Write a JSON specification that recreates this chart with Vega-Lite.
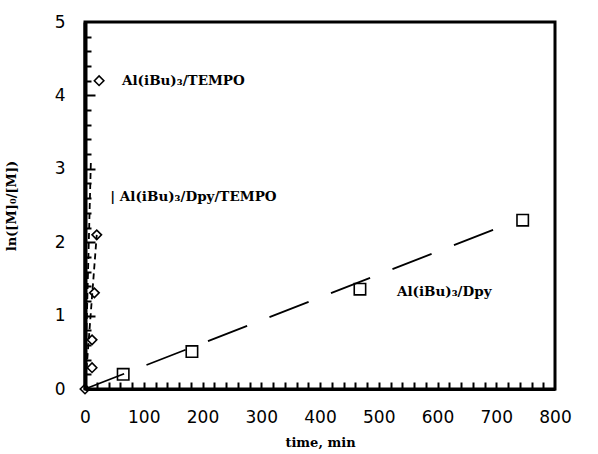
{
  "$schema": "https://vega.github.io/schema/vega-lite/v6.json",
  "autosize": {"type": "none"},
  "width": 470,
  "height": 367,
  "padding": {"left": 85, "top": 22, "right": 43, "bottom": 65},
  "background": "white",
  "config": {"view": {"stroke": "black", "strokeWidth": 3}},
  "datasets": {
    "pts": [
      {"time": 0, "lnM": 0, "series": "Al(iBu)3/TEMPO"},
      {"time": 12, "lnM": 0.29, "series": "Al(iBu)3/TEMPO"},
      {"time": 12, "lnM": 0.67, "series": "Al(iBu)3/TEMPO"},
      {"time": 16, "lnM": 1.31, "series": "Al(iBu)3/TEMPO"},
      {"time": 20, "lnM": 2.1, "series": "Al(iBu)3/TEMPO"},
      {"time": 24, "lnM": 4.2, "series": "Al(iBu)3/TEMPO"},
      {"time": 65, "lnM": 0.2, "series": "Al(iBu)3/Dpy"},
      {"time": 182, "lnM": 0.51, "series": "Al(iBu)3/Dpy"},
      {"time": 468, "lnM": 1.36, "series": "Al(iBu)3/Dpy"},
      {"time": 745, "lnM": 2.3, "series": "Al(iBu)3/Dpy"}
    ],
    "lines": [
      {"time": 0, "lnM": 0, "series": "Dpy fit"},
      {"time": 705, "lnM": 2.2, "series": "Dpy fit"},
      {"time": 0, "lnM": 0, "series": "TEMPO fit"},
      {"time": 20, "lnM": 2.1, "series": "TEMPO fit"},
      {"time": 0, "lnM": 0, "series": "Dpy/TEMPO fit"},
      {"time": 10, "lnM": 3.1, "series": "Dpy/TEMPO fit"}
    ],
    "labels": [
      {"time": 63, "lnM": 4.2, "text": "Al(iBu)₃/TEMPO"},
      {"time": 43, "lnM": 2.62, "text": "| Al(iBu)₃/Dpy/TEMPO"},
      {"time": 531, "lnM": 1.32, "text": "Al(iBu)₃/Dpy"}
    ]
  },
  "resolve": {"axis": {"x": "independent", "y": "independent"}},
  "layer": [
    {
      "data": {"name": "lines"},
      "transform": [{"filter": "datum.series === 'Dpy fit'"}],
      "mark": {"type": "line", "color": "black", "strokeWidth": 1.8, "strokeDash": [42, 24]},
      "encoding": {
        "x": {
          "field": "time", "type": "quantitative",
          "scale": {"domain": [0, 800], "nice": false, "zero": false},
          "axis": {
            "title": "time,  min",
            "titleFont": "DejaVu Serif", "titleFontSize": 13, "titleFontWeight": "bold",
            "titlePadding": 11,
            "values": [0,100,200,300,400,500,600,700,800],
            "labelFont": "DejaVu Sans", "labelFontSize": 17, "labelColor": "black",
            "labelPadding": 20, "labelFlush": false, "labelOverlap": false,
            "ticks": false,
            "domainColor": "black", "domainWidth": 3, "grid": false
          }
        },
        "y": {
          "field": "lnM", "type": "quantitative",
          "scale": {"domain": [0, 5], "nice": false, "zero": false},
          "axis": {
            "title": "ln([M]₀/[M])",
            "titleFont": "DejaVu Serif", "titleFontSize": 13, "titleFontWeight": "bold",
            "titlePadding": 36,
            "values": [0,1,2,3,4,5],
            "format": "d",
            "labelFont": "DejaVu Sans", "labelFontSize": 17, "labelColor": "black",
            "labelPadding": 20, "labelFlush": false, "labelOverlap": false,
            "ticks": false,
            "domainColor": "black", "domainWidth": 4, "grid": false
          }
        },
        "detail": {"field": "series"}
      }
    },
    {
      "data": {"name": "lines"},
      "transform": [{"filter": "datum.series !== 'Dpy fit'"}],
      "mark": {"type": "line", "color": "black", "strokeWidth": 1.8, "strokeDash": [6, 4]},
      "encoding": {
        "x": {
          "field": "time", "type": "quantitative",
          "scale": {"domain": [0, 800], "nice": false, "zero": false},
          "axis": {
            "orient": "bottom", "offset": -7, "title": null, "labels": false, "domain": false, "grid": false,
            "values": [20,40,60,80,100,120,140,160,180,200,220,240,260,280,300,320,340,360,380,400,420,440,460,480,500,520,540,560,580,600,620,640,660,680,700,720,740,760,780],
            "tickSize": 7,
            "tickColor": "black", "tickWidth": 2
          }
        },
        "y": {
          "field": "lnM", "type": "quantitative",
          "scale": {"domain": [0, 5], "nice": false, "zero": false},
          "axis": {
            "orient": "right", "offset": -470, "title": null, "labels": false, "domain": false, "grid": false,
            "values": [0,0.2,0.4,0.6,0.8,1,1.2,1.4,1.6,1.8,2,2.2,2.4,2.6,2.8,3,3.2,3.4,3.6,3.8,4,4.2,4.4,4.6,4.8],
            "tickSize": {"condition": {"test": "abs(datum.value - round(datum.value)) < 0.01", "value": 10}, "value": 6},
            "tickColor": "black", "tickWidth": 2
          }
        },
        "detail": {"field": "series"}
      }
    },
    {
      "data": {"name": "pts"},
      "mark": {"type": "point", "filled": false, "color": "black", "strokeWidth": 1.6, "opacity": 1},
      "encoding": {
        "x": {"field": "time", "type": "quantitative", "axis": null},
        "y": {"field": "lnM", "type": "quantitative", "axis": null},
        "shape": {"field": "series", "type": "nominal", "scale": {"domain": ["Al(iBu)3/TEMPO", "Al(iBu)3/Dpy"], "range": ["diamond", "square"]}, "legend": null},
        "size": {"field": "series", "type": "nominal", "scale": {"domain": ["Al(iBu)3/TEMPO", "Al(iBu)3/Dpy"], "range": [90, 130]}, "legend": null}
      }
    },
    {
      "data": {"name": "labels"},
      "mark": {"type": "text", "align": "left", "baseline": "middle", "font": "DejaVu Serif", "fontSize": 13.5, "fontWeight": "bold", "color": "black"},
      "encoding": {
        "x": {"field": "time", "type": "quantitative", "axis": null},
        "y": {"field": "lnM", "type": "quantitative", "axis": null},
        "text": {"field": "text"}
      }
    }
  ]
}
